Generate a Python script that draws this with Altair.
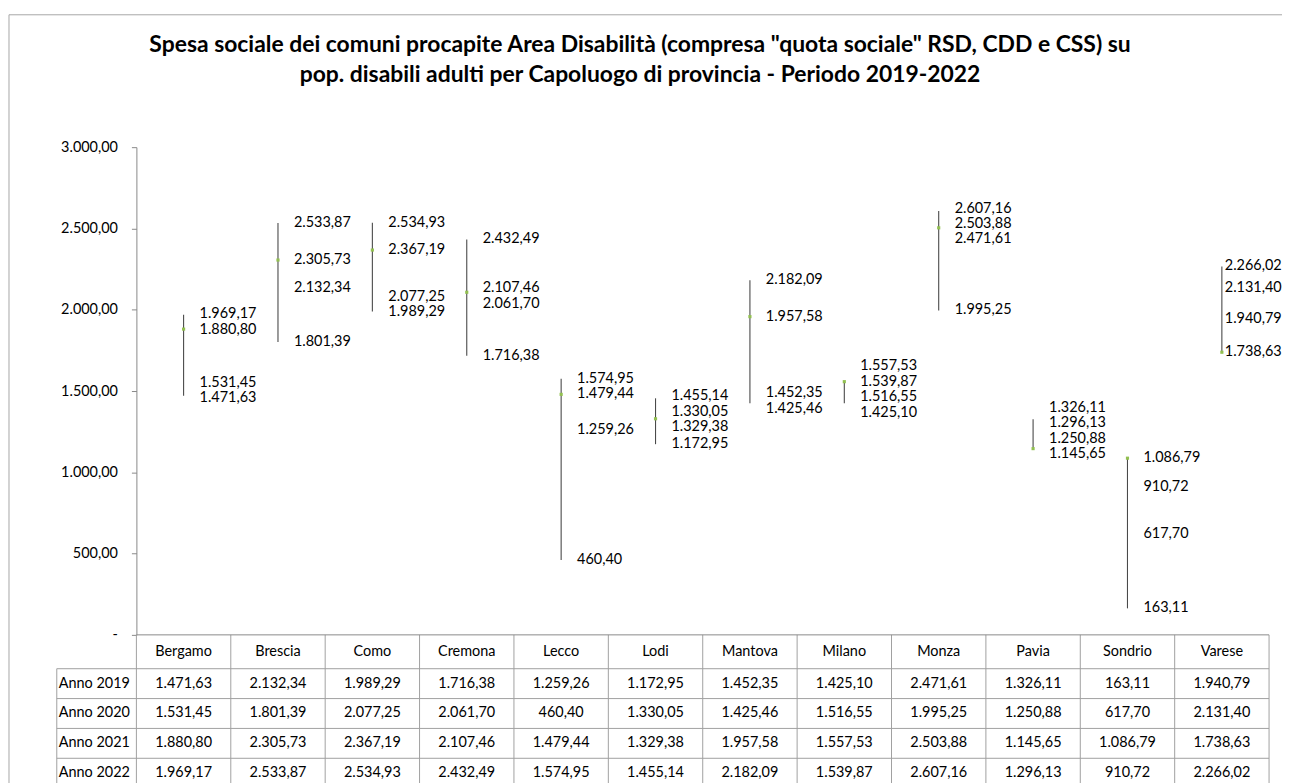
import altair as alt
import pandas as pd

# ---------------- data ----------------
cities = ["Bergamo", "Brescia", "Como", "Cremona", "Lecco", "Lodi",
          "Mantova", "Milano", "Monza", "Pavia", "Sondrio", "Varese"]
years = ["Anno 2019", "Anno 2020", "Anno 2021", "Anno 2022"]
v2019 = [1471.63, 2132.34, 1989.29, 1716.38, 1259.26, 1172.95,
         1452.35, 1425.10, 2471.61, 1326.11, 163.11, 1940.79]
v2020 = [1531.45, 1801.39, 2077.25, 2061.70, 460.40, 1330.05,
         1425.46, 1516.55, 1995.25, 1250.88, 617.70, 2131.40]
v2021 = [1880.80, 2305.73, 2367.19, 2107.46, 1479.44, 1329.38,
         1957.58, 1557.53, 2503.88, 1145.65, 1086.79, 1738.63]
v2022 = [1969.17, 2533.87, 2534.93, 2432.49, 1574.95, 1455.14,
         2182.09, 1539.87, 2607.16, 1296.13, 910.72, 2266.02]
series = [v2019, v2020, v2021, v2022]

title1 = 'Spesa sociale dei comuni procapite Area Disabilità (compresa "quota sociale" RSD, CDD e CSS) su'
title2 = 'pop. disabili adulti per Capoluogo di provincia - Periodo 2019-2022'

# ---------------- layout ----------------
W, H = 1138, 490
PAD_L, PAD_T, PAD_R = 129, 138, 13
TOTAL_H = 775
PAD_B = TOTAL_H - PAD_T - H
YMAX = 3000
FONT = "Lato"
FS = 14.5
GRID = "#a0a0a0"
AXC = "#898989"


def fmt_it(v):
    s = f"{v:,.2f}"
    return s.replace(",", "#").replace(".", ",").replace("#", ".")


def dodge(vals, gap):
    order = sorted(range(len(vals)), key=lambda i: -vals[i])
    clusters = []
    for i in order:
        clusters.append({"idx": [i], "ideal": [vals[i]]})
        while len(clusters) > 1:
            a, b = clusters[-2], clusters[-1]
            ma = sum(a["ideal"]) / len(a["ideal"])
            mb = sum(b["ideal"]) / len(b["ideal"])
            bottom_a = ma - gap * (len(a["idx"]) - 1) / 2
            top_b = mb + gap * (len(b["idx"]) - 1) / 2
            if bottom_a - top_b < gap:
                clusters[-2] = {"idx": a["idx"] + b["idx"],
                                "ideal": a["ideal"] + b["ideal"]}
                clusters.pop()
            else:
                break
    out = [0.0] * len(vals)
    for c in clusters:
        n = len(c["idx"])
        m = sum(c["ideal"]) / n
        for j, i in enumerate(c["idx"]):
            out[i] = m + gap * ((n - 1) / 2 - j)
    return out


gap_units = 15.5 * YMAX / H

hl_rows, lab_rows, cell_rows = [], [], []
for ci, c in enumerate(cities):
    vals = [s[ci] for s in series]
    hl_rows.append({"city": c, "low": min(vals), "high": max(vals), "mid": v2021[ci]})
    ly = dodge(vals, gap_units)
    for k, v in enumerate(vals):
        lab_rows.append({"city": c, "ly": ly[k], "t": fmt_it(v),
                         "edge": ci == len(cities) - 1})
        cell_rows.append({"city": c, "rowy": 539 + 30 * k, "t": fmt_it(v)})

hl = pd.DataFrame(hl_rows)
labs = pd.DataFrame(lab_rows)
cells = pd.DataFrame(cell_rows)
rowhead = pd.DataFrame({"year": years, "rowy": [539 + 30 * k for k in range(4)]})
hlines = pd.DataFrame({"yp": [524 + 30 * k for k in range(4)]})
cityhead = pd.DataFrame({"city": cities})

xscale = alt.Scale(type="band", domain=cities, paddingInner=0, paddingOuter=0)
yscale = alt.Scale(domain=[0, YMAX], nice=False, zero=True)


def X(bp=0.5):
    return alt.X("city:N", sort=cities, scale=xscale, axis=None, bandPosition=bp)


label_expr = ("datum.value == 0 ? '-\u00a0\u00a0\u00a0' : (datum.value < 1000 ? "
              "format(datum.value, 'd') + ',00' : format(datum.value / 1000, '.3f') + ',00')")

yaxis = alt.Axis(values=[0, 500, 1000, 1500, 2000, 2500, 3000], labelExpr=label_expr,
                 grid=False, title=None, domainColor=AXC, tickColor=AXC, tickSize=5,
                 labelFont=FONT, labelFontSize=FS, labelColor="#000000", labelPadding=14)


def Y(field):
    return alt.Y(field, scale=yscale, axis=yaxis, title=None)


# high-low lines
rules = alt.Chart(hl).mark_rule(color="#4a4a4a", strokeWidth=1.1).encode(
    x=X(), y=Y("low:Q"), y2="high:Q")

marker = alt.Chart(hl).mark_square(size=10, color="#92c050", opacity=1).encode(
    x=X(), y=Y("mid:Q"))

lab_main = alt.Chart(labs).transform_filter("!datum.edge").mark_text(
    align="left", baseline="middle", dx=16, font=FONT, fontSize=FS, color="#000000").encode(
    x=X(), y=Y("ly:Q"), text="t:N")

lab_edge = alt.Chart(labs).transform_filter("datum.edge").mark_text(
    align="left", baseline="middle", dx=3, font=FONT, fontSize=FS, color="#000000").encode(
    x=X(), y=Y("ly:Q"), text="t:N")

# table
vlines = alt.Chart(cityhead).mark_rule(color=GRID, strokeWidth=1).encode(
    x=X(0), y=alt.value(H), y2=alt.value(H + 400))
vline_end = alt.Chart(cityhead.head(1)).mark_rule(color=GRID, strokeWidth=1).encode(
    x=alt.value(W), y=alt.value(H), y2=alt.value(H + 400))
vline_left = alt.Chart(cityhead.head(1)).mark_rule(color=GRID, strokeWidth=1).encode(
    x=alt.value(-80), y=alt.value(524), y2=alt.value(H + 400))
topline = alt.Chart(cityhead.head(1)).mark_rule(color=AXC, strokeWidth=1).encode(
    x=alt.value(0), x2=alt.value(W), y=alt.value(H))
hrules = alt.Chart(hlines).mark_rule(color=GRID, strokeWidth=1).encode(
    x=alt.value(-80), x2=alt.value(W), y=alt.Y("yp:Q", scale=None))

head_txt = alt.Chart(cityhead).mark_text(
    align="center", baseline="middle", font=FONT, fontSize=FS, color="#000000").encode(
    x=X(), y=alt.value(507), text="city:N")
cell_txt = alt.Chart(cells).mark_text(
    align="center", baseline="middle", font=FONT, fontSize=FS, color="#000000").encode(
    x=X(), y=alt.Y("rowy:Q", scale=None), text="t:N")
row_txt = alt.Chart(rowhead).mark_text(
    align="left", baseline="middle", font=FONT, fontSize=FS, color="#000000").encode(
    x=alt.value(-78), y=alt.Y("rowy:Q", scale=None), text="year:N")

# titles and frame
t1 = alt.Chart(pd.DataFrame({"t": [title1]})).mark_text(
    align="center", baseline="middle", font=FONT, fontSize=23, fontWeight="bold",
    color="#000000").encode(x=alt.value(506), y=alt.value(-103), text="t:N")
t2 = alt.Chart(pd.DataFrame({"t": [title2]})).mark_text(
    align="center", baseline="middle", font=FONT, fontSize=23, fontWeight="bold",
    color="#000000").encode(x=alt.value(506), y=alt.value(-72), text="t:N")
frame = alt.Chart(cityhead.head(1)).mark_rect(
    fillOpacity=0, stroke="#a6a6a6", strokeWidth=1).encode(
    x=alt.value(-128), x2=alt.value(W + 40), y=alt.value(-133), y2=alt.value(H + 400))

chart = alt.layer(
    rules, marker, lab_main, lab_edge,
    frame, vlines, vline_end, vline_left, topline, hrules,
    head_txt, cell_txt, row_txt, t1, t2
).properties(
    width=W, height=H,
    padding={"left": PAD_L, "top": PAD_T, "right": PAD_R, "bottom": PAD_B},
    autosize=alt.AutoSizeParams(type="none"),
    background="#ffffff",
).configure_view(stroke=None)

chart.save("out.html", embed_options={"renderer": "svg", "actions": False})
